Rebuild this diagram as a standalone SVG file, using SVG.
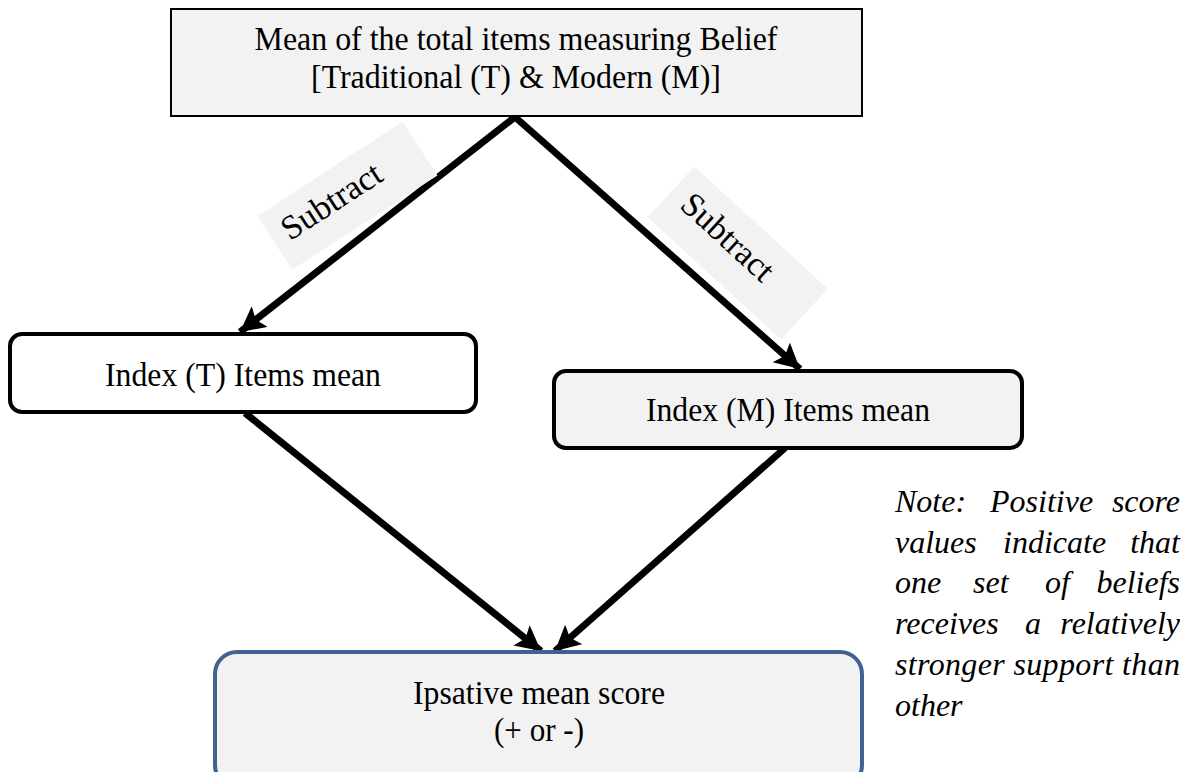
<svg xmlns="http://www.w3.org/2000/svg" width="1190" height="772" viewBox="0 0 1190 772">
  <style>
    .t { font-family: "Liberation Serif", "Times New Roman", serif; font-size: 34px; fill: #000; }
    .c { text-anchor: middle; }
    .note { font-family: "Liberation Serif", "Times New Roman", serif; font-size: 32px; font-style: italic; fill: #000; }
    .edge { stroke: #000; stroke-width: 7; fill: none; marker-end: url(#head); }
    .lbl { fill: #f2f2f2; }
  </style>
  <defs>
    <marker id="head" markerUnits="userSpaceOnUse" markerWidth="30" markerHeight="30" refX="25" refY="13" orient="auto">
      <path d="M0,0 L25,13 L0,26 L5,13 Z" fill="#000"/>
    </marker>
  </defs>

  <rect width="1190" height="772" fill="#fff"/>

  <!-- connectors -->
  <g id="connectors">
    <line class="edge" x1="515" y1="117" x2="240" y2="332"/>
    <line class="edge" x1="515" y1="117" x2="800" y2="369"/>
    <line class="edge" x1="245" y1="413" x2="541" y2="651"/>
    <line class="edge" x1="785" y1="448" x2="555" y2="651"/>
  </g>

  <!-- "Subtract" labels along the two upper connectors -->
  <g id="label-left">
    <rect class="lbl" x="-86" y="-32" width="173" height="64" transform="translate(347,196) rotate(-33)"/>
    <text class="t c" font-size="31" transform="translate(332,202) rotate(-33)" y="10">Subtract</text>
  </g>
  <g id="label-right">
    <rect class="lbl" x="-90" y="-35" width="181" height="69" transform="translate(737,253) rotate(42.5)"/>
    <text class="t c" font-size="31" transform="translate(727,238) rotate(42.5)" y="10">Subtract</text>
  </g>

  <g id="node-total">
    <rect x="171" y="9" width="691" height="107" fill="#f2f2f2" stroke="#000" stroke-width="2"/>
    <text class="t c" x="516" y="50" textLength="523" lengthAdjust="spacingAndGlyphs">Mean of the total items measuring Belief</text>
    <text class="t c" x="516" y="88" textLength="410" lengthAdjust="spacingAndGlyphs">[Traditional (T) &amp; Modern (M)]</text>
  </g>

  <g id="node-index-t">
    <rect x="10" y="334" width="466" height="78" rx="12" fill="#fff" stroke="#000" stroke-width="4"/>
    <text class="t c" x="243" y="386" textLength="276" lengthAdjust="spacingAndGlyphs">Index (T) Items mean</text>
  </g>

  <g id="node-index-m">
    <rect x="554" y="371" width="468" height="77" rx="12" fill="#f2f2f2" stroke="#000" stroke-width="4"/>
    <text class="t c" x="788" y="421" textLength="284" lengthAdjust="spacingAndGlyphs">Index (M) Items mean</text>
  </g>

  <g id="node-ipsative">
    <rect x="215" y="652" width="647" height="135" rx="22" fill="#f2f2f2" stroke="#41628f" stroke-width="4"/>
    <text class="t c" x="539" y="704" textLength="252" lengthAdjust="spacingAndGlyphs">Ipsative mean score</text>
    <text class="t c" x="539" y="741" textLength="90" lengthAdjust="spacingAndGlyphs">(+ or -)</text>
  </g>

  <g id="note">
    <text class="note" y="512"><tspan x="895">Note:</tspan><tspan x="990">Positive</tspan><tspan x="1180" text-anchor="end">score</tspan></text>
    <text class="note" y="553"><tspan x="895">values</tspan><tspan x="1003">indicate</tspan><tspan x="1180" text-anchor="end">that</tspan></text>
    <text class="note" y="593"><tspan x="895">one</tspan><tspan x="973">set</tspan><tspan x="1045">of</tspan><tspan x="1180" text-anchor="end">beliefs</tspan></text>
    <text class="note" y="634"><tspan x="895">receives</tspan><tspan x="1025">a</tspan><tspan x="1180" text-anchor="end">relatively</tspan></text>
    <text class="note" y="675" x="895" textLength="285" lengthAdjust="spacing">stronger support than</text>
    <text class="note" y="716" x="895">other</text>
  </g>
</svg>
